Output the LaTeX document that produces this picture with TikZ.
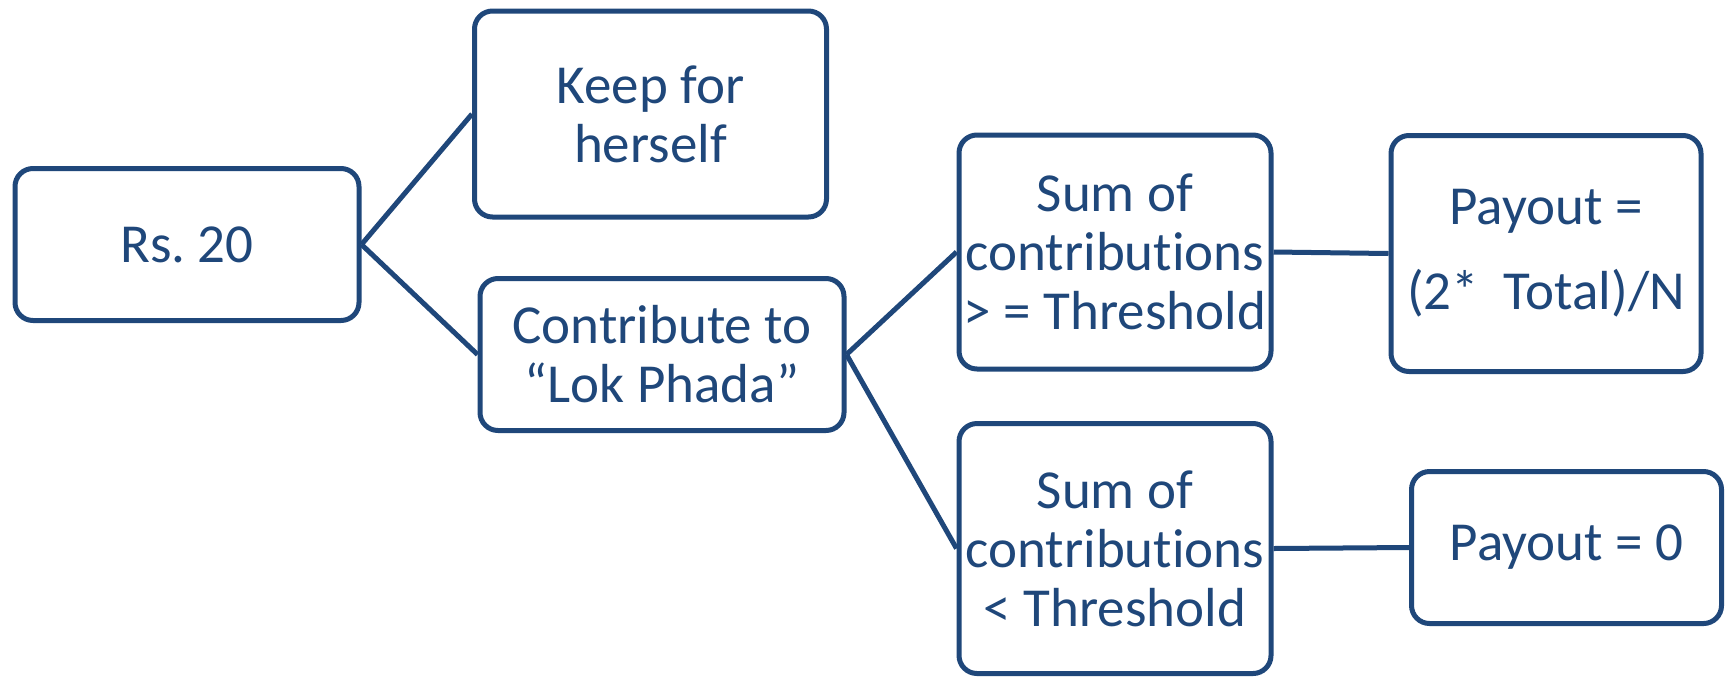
\documentclass[tikz,border=0pt]{standalone}
\usepackage{fontspec}
\setmainfont{Carlito}[Ligatures=NoCommon]
\usepackage{xcolor}
\usepackage{tikz}
\usetikzlibrary{positioning}
\definecolor{navy}{RGB}{31, 71, 122}
\frenchspacing

\begin{document}
\begin{tikzpicture}[
  x=0.5pt, y=-0.5pt,
  choice/.style={rectangle,rounded corners=9pt,draw=navy,line width=2.5pt,fill=white,
                 text=navy,align=center,inner sep=2pt,
                 font=\fontsize{27.5pt}{29.5pt}\selectfont},
  link/.style={draw=navy,line width=2.5pt}
]
  \useasboundingbox (0,0) rectangle (1733,681);

  % first split
  \node[choice,minimum width=172pt,minimum height=76pt] (rs) at (187,244.5) {Rs. 20};
  \node[choice,minimum width=176pt,minimum height=103pt] (keep) at (650.5,114) {Keep for\\herself};
  \node[choice,minimum width=182pt,minimum height=76pt] (give) at (662,354.5) {Contribute to\\“Lok Phada”};

  % threshold outcomes
  \node[choice,minimum width=156pt,minimum height=117pt] (above) at (1115,252) {Sum of\\contributions\\> = Threshold};
  \node[choice,minimum width=156pt,minimum height=125pt] (below) at (1115,548.5) {Sum of\\contributions\\< Threshold};
  \node[choice,minimum width=155pt,minimum height=118pt] (payhi) at (1546,253.5) {Payout =\\[13pt](2*~~Total)/N};
  \node[choice,minimum width=155pt,minimum height=76pt] (payzero) at (1566.5,547.5) {Payout = 0};

  \draw[link] (rs.east) -- (keep.west);
  \draw[link] (rs.east) -- (give.west);
  \draw[link] (give.east) -- (above.west);
  \draw[link] (give.east) -- (below.west);
  \draw[link] (above.east) -- (payhi.west);
  \draw[link] (below.east) -- (payzero.west);
\end{tikzpicture}
\end{document}
